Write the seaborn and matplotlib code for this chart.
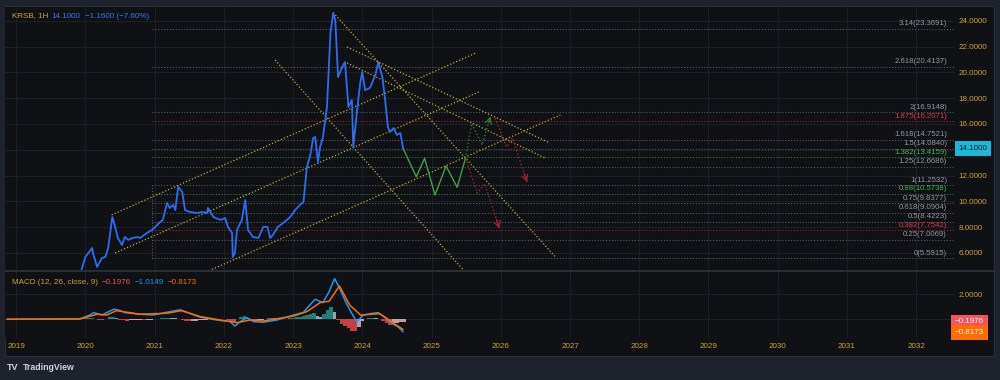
import numpy as np
import pandas as pd
import seaborn as sns
import matplotlib.pyplot as plt
import matplotlib.transforms as mtransforms
from matplotlib.patches import Rectangle
from matplotlib.lines import Line2D

# ---- data (x = fractional year) ----
price_years = [2019.94, 2020.00, 2020.10, 2020.11, 2020.17, 2020.24, 2020.29, 2020.33, 2020.39, 2020.43,
               2020.47, 2020.53, 2020.57, 2020.62, 2020.68, 2020.75, 2020.79, 2020.89, 2020.96, 2021.01,
               2021.08, 2021.12, 2021.18, 2021.22, 2021.27, 2021.30, 2021.34, 2021.40, 2021.44, 2021.51,
               2021.61, 2021.70, 2021.76, 2021.77, 2021.85, 2021.95, 2022.02, 2022.06, 2022.12, 2022.13,
               2022.16, 2022.19, 2022.26, 2022.31, 2022.35, 2022.42, 2022.50, 2022.57, 2022.63, 2022.67,
               2022.71, 2022.78, 2022.86, 2022.96, 2023.03, 2023.10, 2023.15, 2023.20, 2023.25, 2023.29,
               2023.32, 2023.36, 2023.39, 2023.43, 2023.49, 2023.54, 2023.58, 2023.61, 2023.65, 2023.71,
               2023.75, 2023.80, 2023.85, 2023.87, 2023.93, 2023.97, 2024.00, 2024.04, 2024.11, 2024.19,
               2024.23, 2024.29, 2024.33, 2024.37, 2024.40, 2024.45, 2024.50, 2024.55, 2024.59]
price_vals = [4.6, 5.69, 6.39, 6.00, 4.92, 5.61, 5.69, 6.39, 8.79, 8.02,
              7.16, 6.62, 7.24, 7.01, 7.16, 7.24, 7.16, 7.55, 7.78, 8.02,
              8.40, 8.56, 9.88, 9.49, 9.72, 9.33, 11.12, 10.73, 9.33, 9.18,
              9.10, 9.18, 9.10, 9.49, 8.79, 8.56, 8.71, 8.02, 7.55, 5.69,
              6.00, 7.78, 8.56, 10.11, 7.78, 7.24, 7.16, 8.02, 8.02, 7.16,
              7.40, 8.02, 8.33, 8.79, 9.33, 9.72, 9.95, 12.67, 13.60, 14.91,
              14.99, 13.05, 14.22, 14.91, 17.32, 23.05, 24.60, 24.06, 19.64, 20.42,
              20.80, 17.32, 17.86, 14.22, 17.32, 19.18, 20.03, 18.63, 18.79, 19.80,
              20.80, 19.64, 17.86, 15.77, 15.38, 15.69, 15.15, 15.30, 14.10]

macd_years = [2018.87, 2019.92, 2020.05, 2020.12, 2020.24, 2020.41, 2020.48, 2020.57, 2020.79, 2020.98,
              2021.18, 2021.37, 2021.44, 2021.66, 2021.90, 2022.09, 2022.16, 2022.24, 2022.33, 2022.43,
              2022.57, 2022.77, 2023.01, 2023.15, 2023.22, 2023.32, 2023.43, 2023.52, 2023.60, 2023.67,
              2023.76, 2023.84, 2023.92, 2024.01, 2024.12, 2024.23, 2024.35, 2024.43, 2024.52, 2024.59]
macd_vals = [0.0, 0.03, 0.30, 0.53, 0.34, 0.80, 0.74, 0.53, 0.40, 0.34,
             0.56, 0.76, 0.61, 0.16, -0.06, -0.19, -0.54, -0.19, 0.13, -0.19,
             -0.24, -0.06, 0.34, 0.55, 1.0, 1.6, 1.33, 2.2, 3.25, 2.5,
             1.38, 0.55, -0.22, 0.32, 0.45, 0.53, 0.05, -0.35, -0.62, -1.0149]

signal_years = [2018.87, 2019.92, 2020.17, 2020.31, 2020.45, 2020.79, 2021.18, 2021.39, 2021.66, 2021.95,
                2022.19, 2022.38, 2022.57, 2023.01, 2023.20, 2023.39, 2023.52, 2023.67, 2023.82, 2023.98,
                2024.05, 2024.25, 2024.36, 2024.48, 2024.59]
signal_vals = [0.0, 0.02, 0.40, 0.34, 0.69, 0.40, 0.48, 0.69, 0.21, -0.06,
               -0.27, -0.06, -0.14, 0.26, 0.61, 1.33, 1.44, 2.66, 1.12, 0.32,
               0.37, 0.45, 0.05, -0.43, -0.8173]

# histogram, one bar every 0.05 year from 2019.90
hist_vals = [0.0, 0.02, 0.08, 0.12, 0.12, 0.05, -0.05, -0.06, 0.05, 0.15,
             0.20, 0.10, -0.02, -0.08, -0.10, -0.08, -0.06, -0.05, -0.04, -0.05,
             -0.04, -0.02, 0.02, 0.05, 0.08, 0.10, 0.10, 0.08, 0.07, 0.06,
             -0.02, -0.10, -0.15, -0.13, -0.10, -0.06, -0.04, -0.02, 0.0, -0.02,
             -0.03, 0.02, 0.03, -0.02, -0.12, -0.25, 0.05, 0.20, 0.30, 0.10,
             -0.08, -0.12, -0.10, -0.08, 0.02, 0.08, 0.10, 0.08, 0.06, 0.05,
             0.06, 0.08, 0.10, 0.15, 0.22, 0.25, 0.35, 0.45, 0.50, 0.30,
             0.15, 0.40, 0.75, 0.95, 0.60, -0.05, -0.35, -0.55, -0.70, -0.90,
             -0.95, -0.60, -0.10, 0.05, 0.08, 0.10, 0.08, 0.05, -0.10, -0.30,
             -0.45, -0.40, -0.30, -0.25, -0.20]
hist_years = np.round(2019.90 + 0.05 * np.arange(len(hist_vals)), 2)

fib_ratios = ['0', '0.25', '0.382', '0.5', '0.618', '0.75', '0.88', '1',
              '1.25', '1.382', '1.5', '1.618', '1.875', '2', '2.618', '3.14']
fib_prices = [5.5915, 7.0069, 7.7542, 8.4223, 9.0904, 9.8377, 10.5738, 11.2532,
              12.6686, 13.4159, 14.0840, 14.7521, 16.2071, 16.9148, 20.4137, 23.3691]
fib_start = 2020.96

# yellow drawn lines: start year/price -> end year/price
line_x0 = [2020.38, 2020.43, 2021.70, 2022.74, 2023.58, 2023.78, 2023.78]
line_y0 = [8.95, 6.00, 4.42, 20.96, 24.63, 21.97, 20.73]
line_x1 = [2025.63, 2025.69, 2026.86, 2025.46, 2026.79, 2026.68, 2026.64]
line_y1 = [21.48, 18.50, 16.70, 4.68, 5.69, 14.60, 13.36]

# projected paths
green_years = [2024.59, 2024.78, 2024.90, 2025.05, 2025.21, 2025.37, 2025.49]
green_vals = [14.10, 11.91, 13.34, 10.50, 12.74, 11.09, 13.34]
green_dot_years = [2025.49, 2025.58, 2025.73, 2025.85]
green_dot_vals = [13.34, 16.05, 14.37, 16.57]
red1_years = [2025.51, 2025.66, 2025.77, 2025.98]
red1_vals = [13.08, 10.63, 11.35, 7.91]
red2_years = [2025.92, 2026.08, 2026.17, 2026.38]
red2_vals = [16.44, 14.22, 14.91, 11.50]

year_ticks = list(range(2019, 2033))
price_ticks = [6, 8, 10, 12, 14, 16, 18, 20, 22, 24]

# ---- style ----
sns.set_theme(style='dark')
plt.rcParams['font.family'] = ['Liberation Sans', 'DejaVu Sans']

BG = '#0f1115'
OUTER = '#1e222d'
GRID = '#1c1f27'
GOLD = '#d2a03c'
YEL = '#bfae3c'
DOT = (0, (1, 1.6))

fig = plt.figure(figsize=(10, 3.8), dpi=100, facecolor=OUTER)
W, H = 1000, 380


def fx(px):
    return px / W


def fy(py):
    return 1 - py / H


fig.add_artist(Rectangle((fx(5), fy(356)), fx(989), 350 / H, transform=fig.transFigure,
                         facecolor=BG, edgecolor='#2a2e39', lw=0.8, zorder=-1))

ax = fig.add_axes([fx(5), fy(270), fx(950), 263 / H])
axm = fig.add_axes([fx(5), fy(337), fx(950), 65 / H])

for a in (ax, axm):
    a.set_facecolor(BG)
    for s in a.spines.values():
        s.set_visible(False)
    a.set_xlim(2018.84, 2032.56)
    a.set_xticks(year_ticks)
    a.grid(True, color=GRID, lw=0.8)
    a.set_axisbelow(True)

# ---- main price panel ----
ax.set_ylim(4.68, 25.07)
ax.yaxis.tick_right()
ax.set_yticks(price_ticks)
ax.set_yticklabels(['' if p == 14 else f'{p:.4f}' for p in price_ticks])
ax.tick_params(axis='y', length=0, pad=2.3, labelsize=5.8, labelcolor=GOLD)
ax.tick_params(axis='x', length=0, labelbottom=False)

# fib levels
fib_colors = {'0.382': ('#a3222e', '#e03a48'), '1.875': ('#a3222e', '#e03a48'),
              '0.88': ('#2f7d32', '#4caf50'), '1.382': ('#2f7d32', '#4caf50')}
blend = mtransforms.blended_transform_factory(ax.transAxes, ax.transData)
for r, p in zip(fib_ratios, fib_prices):
    lc, tc = fib_colors.get(r, ('#55585f', '#9195a0'))
    ax.plot([fib_start, 2032.56], [p, p], color=lc, lw=0.8, ls=DOT, zorder=1)
    ax.annotate(f'{r}({p:.4f})', xy=(0.9916, p), xycoords=blend, xytext=(0, 1.2),
                textcoords='offset points', ha='right', va='bottom', fontsize=5.6, color=tc)
ax.plot([fib_start, fib_start], [fib_prices[0], fib_prices[7]], color='#55585f', lw=0.8, ls=DOT)

# yellow trend lines
for x0, y0, x1, y1 in zip(line_x0, line_y0, line_x1, line_y1):
    ax.plot([x0, x1], [y0, y1], color=YEL, lw=0.9, ls=DOT, zorder=2)

# price
sns.lineplot(x=price_years, y=price_vals, ax=ax, color='#2e6cf2', lw=1.3,
             estimator=None, sort=False, zorder=4)


def path(xs, ys, color, ls, arrow):
    ax.plot(xs, ys, color=color, lw=1.0, ls=ls, zorder=3)
    if arrow:
        tail = (xs[-1] - 0.2 * (xs[-1] - xs[-2]), ys[-1] - 0.2 * (ys[-1] - ys[-2]))
        ax.annotate('', xy=(xs[-1], ys[-1]), xytext=tail,
                    arrowprops=dict(arrowstyle='->,head_length=0.35,head_width=0.18',
                                    color=color, lw=0.9, shrinkA=0, shrinkB=0), zorder=3)


path(green_years, green_vals, '#43a047', '-', False)
path(green_dot_years, green_dot_vals, '#2e7d32', DOT, True)
path(red1_years, red1_vals, '#a8232f', DOT, True)
path(red2_years, red2_vals, '#a8232f', DOT, True)

# current price box
ax.text(1.0040, 14.1, '14.1000', transform=blend, fontsize=5.8, color='#131722',
        va='center', ha='left', clip_on=False,
        bbox=dict(boxstyle='square,pad=0.45', fc='#1cb8d8', ec='none'))

# ---- MACD panel ----
axm.set_ylim(-1.42, 3.78)
axm.yaxis.tick_right()
axm.set_yticks([0, 2])
axm.set_yticklabels(['', '2.0000'])
axm.tick_params(axis='y', length=0, pad=2.3, labelsize=5.8, labelcolor=GOLD)
axm.set_xticklabels([str(y) for y in year_ticks])
axm.tick_params(axis='x', length=0, pad=4.5, labelsize=5.8, labelcolor=GOLD)

hist_colors = []
prev = 0.0
for v in hist_vals:
    if v >= 0:
        hist_colors.append('#26a69a' if v >= prev else '#b2dfdb')
    else:
        hist_colors.append('#ff5252' if v <= prev else '#ffcdd2')
    prev = v
axm.bar(hist_years, hist_vals, width=0.05, color=hist_colors, alpha=0.75, lw=0, zorder=2)

sns.lineplot(x=macd_years, y=macd_vals, ax=axm, color='#2196f3', lw=1.1,
             estimator=None, sort=False, zorder=3)
sns.lineplot(x=signal_years, y=signal_vals, ax=axm, color='#ff6d00', lw=1.1,
             estimator=None, sort=False, zorder=4)

bm = mtransforms.blended_transform_factory(axm.transAxes, axm.transData)
axm.text(1.0, -0.1976, '\u22120.1976', transform=bm, fontsize=5.8, color='white', va='center',
         ha='left', clip_on=False, bbox=dict(boxstyle='square,pad=0.45', fc='#f7525f', ec='none'))
axm.text(1.0, -1.06, '\u22120.8173', transform=bm, fontsize=5.8, color='white', va='center',
         ha='left', clip_on=False, bbox=dict(boxstyle='square,pad=0.45', fc='#ff6d00', ec='none'))

# panel separator
fig.add_artist(Line2D([fx(5), fx(994)], [fy(271), fy(271)], transform=fig.transFigure,
                      color='#2a2e39', lw=1.4))

# ---- header texts ----
fig.text(fx(12), fy(16), 'KRSB, 1H', fontsize=5.8, color=GOLD, va='center')
fig.text(fx(51), fy(16), '14.1000', fontsize=5.8, color='#3a78f2', va='center')
fig.text(fx(85), fy(16), '\u22121.1600 (\u22127.60%)', fontsize=5.8, color='#3a78f2', va='center')

fig.text(fx(12), fy(282), 'MACD (12, 26, close, 9)', fontsize=5.8, color=GOLD, va='center')
fig.text(fx(102), fy(282), '\u22120.1976', fontsize=5.8, color='#f0505f', va='center')
fig.text(fx(135), fy(282), '\u22121.0149', fontsize=5.8, color='#2196f3', va='center')
fig.text(fx(168), fy(282), '\u22120.8173', fontsize=5.8, color='#ff6d00', va='center')

fig.text(fx(7), fy(368), 'TV', fontsize=6.5, color='#d1d4dc', weight='bold', va='center')
fig.text(fx(23), fy(368), 'TradingView', fontsize=6.3, color='#d1d4dc', weight='bold', va='center')

fig.savefig('out.png', dpi=100, facecolor=OUTER)
